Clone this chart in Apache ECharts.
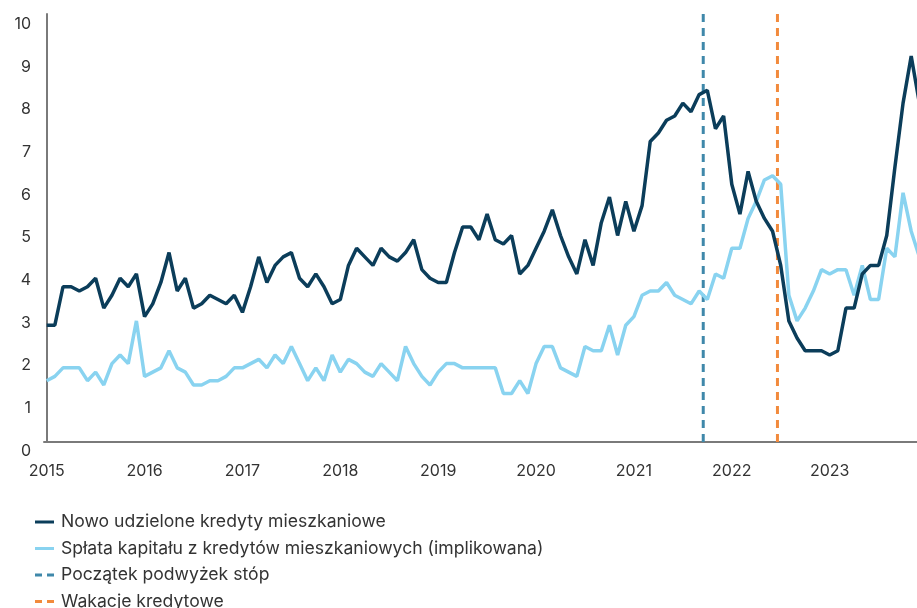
<!DOCTYPE html>
<html><head><meta charset="utf-8">
<script src="https://cdn.jsdelivr.net/npm/echarts@6/dist/echarts.min.js"></script>
<style>html,body{margin:0;padding:0;background:#fff}#c{width:917px;height:608px}</style>
</head><body><div id="c"></div>
<script>
// Month index 0 = Jan 2015
const yearLabels = ['2015','2016','2017','2018','2019','2020','2021','2022','2023'];
const yearTickMonths = [0,12,24,36,48,60,72,84,96];
const yTicks = [0,1,2,3,4,5,6,7,8,9,10];

const newLoans = [
 2.9,2.9,3.8,3.8,3.7,3.8,4.0,3.3,3.6,4.0,3.8,4.1,
 3.1,3.4,3.9,4.6,3.7,4.0,3.3,3.4,3.6,3.5,3.4,3.6,
 3.2,3.8,4.5,3.9,4.3,4.5,4.6,4.0,3.8,4.1,3.8,3.4,
 3.5,4.3,4.7,4.5,4.3,4.7,4.5,4.4,4.6,4.9,4.2,4.0,
 3.9,3.9,4.6,5.2,5.2,4.9,5.5,4.9,4.8,5.0,4.1,4.3,
 4.7,5.1,5.6,5.0,4.5,4.1,4.9,4.3,5.3,5.9,5.0,5.8,
 5.1,5.7,7.2,7.4,7.7,7.8,8.1,7.9,8.3,8.4,7.5,7.8,
 6.2,5.5,6.5,5.8,5.4,5.1,4.3,3.0,2.6,2.3,2.3,2.3,
 2.2,2.3,3.3,3.3,4.1,4.3,4.3,5.0,6.6,8.1,9.2,8.1
];
const repayment = [
 1.6,1.7,1.9,1.9,1.9,1.6,1.8,1.5,2.0,2.2,2.0,3.0,
 1.7,1.8,1.9,2.3,1.9,1.8,1.5,1.5,1.6,1.6,1.7,1.9,
 1.9,2.0,2.1,1.9,2.2,2.0,2.4,2.0,1.6,1.9,1.6,2.2,
 1.8,2.1,2.0,1.8,1.7,2.0,1.8,1.6,2.4,2.0,1.7,1.5,
 1.8,2.0,2.0,1.9,1.9,1.9,1.9,1.9,1.3,1.3,1.6,1.3,
 2.0,2.4,2.4,1.9,1.8,1.7,2.4,2.3,2.3,2.9,2.2,2.9,
 3.1,3.6,3.7,3.7,3.9,3.6,3.5,3.4,3.7,3.5,4.1,4.0,
 4.7,4.7,5.4,5.8,6.3,6.4,6.2,3.6,3.0,3.3,3.7,4.2,
 4.1,4.2,4.2,3.6,4.3,3.5,3.5,4.7,4.5,6.0,5.1,4.5
];
const rateHikeStart = 80.5;   // month index (Oct 2021)
const creditHolidays = 89.6;  // month index (Jul 2022)

const names = [
 'Nowo udzielone kredyty mieszkaniowe',
 'Spłata kapitału z kredytów mieszkaniowych (implikowana)',
 'Początek podwyżek stóp',
 'Wakacje kredytowe'
];
const colors = ['#0b3d5a', '#89d3f0', '#3f88aa', '#f28a3c'];
const FONT = 'Inter, "Open Sans", sans-serif';

const solidIcon = 'path://M0,0H19V3H0Z';
const dashIcon = 'path://M0,0H7V3H0Z M12,0H19V3H12Z';
const legendTops = [513, 539.5, 566, 592.5];

const legends = names.map((n, k) => ({
  orient: 'vertical', left: 35, top: legendTops[k], padding: 0,
  itemWidth: 19, itemHeight: 3,
  icon: k < 2 ? solidIcon : dashIcon,
  data: [n],
  textStyle: { color: '#333', fontSize: 17.6, fontFamily: FONT, padding: [0, 0, 0, 2] }
}));

const X_MIN = -0.33, X_MAX = 106.71;

const chart = echarts.init(document.getElementById('c'));
chart.setOption({
  animation: false,
  backgroundColor: '#ffffff',
  grid: [
    { left: 44, top: 22, right: 0, height: 427, containLabel: false },   // data
    { left: 44, top: 14, right: 0, height: 428, containLabel: false }    // frame
  ],
  xAxis: [
    { gridIndex: 0, type: 'value', min: X_MIN, max: X_MAX, show: false },
    { gridIndex: 1, type: 'value', min: X_MIN, max: X_MAX,
      axisLine: { show: true, lineStyle: { color: '#7a7a7a', width: 2 } },
      axisTick: { show: false },
      splitLine: { show: false },
      axisLabel: {
        customValues: yearTickMonths,
        formatter: v => yearLabels[yearTickMonths.indexOf(v)] || '',
        color: '#333', fontSize: 16, fontFamily: FONT, margin: 21
      } }
  ],
  yAxis: [
    { gridIndex: 0, type: 'value', min: 0, max: 10, interval: 1,
      axisLine: { show: false },
      axisTick: { show: false },
      splitLine: { show: false },
      axisLabel: {
        customValues: yTicks,
        color: '#333', fontSize: 16, fontFamily: FONT, margin: 13, align: 'right',
        verticalAlign: 'top', lineHeight: 4
      } },
    { gridIndex: 1, type: 'value', min: 0, max: 1,
      axisLine: { show: true, lineStyle: { color: '#7a7a7a', width: 2 } },
      axisTick: { show: false },
      splitLine: { show: false },
      axisLabel: { show: false } }
  ],
  legend: legends,
  series: [
    { name: names[0], type: 'line', symbol: 'none', z: 4, xAxisIndex: 0, yAxisIndex: 0,
      lineStyle: { color: colors[0], width: 3.5 }, itemStyle: { color: colors[0] },
      data: newLoans.map((v, i) => [i, v]) },
    { name: names[1], type: 'line', symbol: 'none', z: 3, xAxisIndex: 0, yAxisIndex: 0,
      lineStyle: { color: colors[1], width: 3.5 }, itemStyle: { color: colors[1] },
      data: repayment.map((v, i) => [i, v]) },
    { name: names[2], type: 'line', symbol: 'none', z: 2, xAxisIndex: 1, yAxisIndex: 1,
      lineStyle: { color: colors[2], width: 3, type: [8, 6] }, itemStyle: { color: colors[2] },
      data: [[rateHikeStart, 0], [rateHikeStart, 1]] },
    { name: names[3], type: 'line', symbol: 'none', z: 2, xAxisIndex: 1, yAxisIndex: 1,
      lineStyle: { color: colors[3], width: 3, type: [8, 6] }, itemStyle: { color: colors[3] },
      data: [[creditHolidays, 0], [creditHolidays, 1]] }
  ]
});
</script>
</body></html>
